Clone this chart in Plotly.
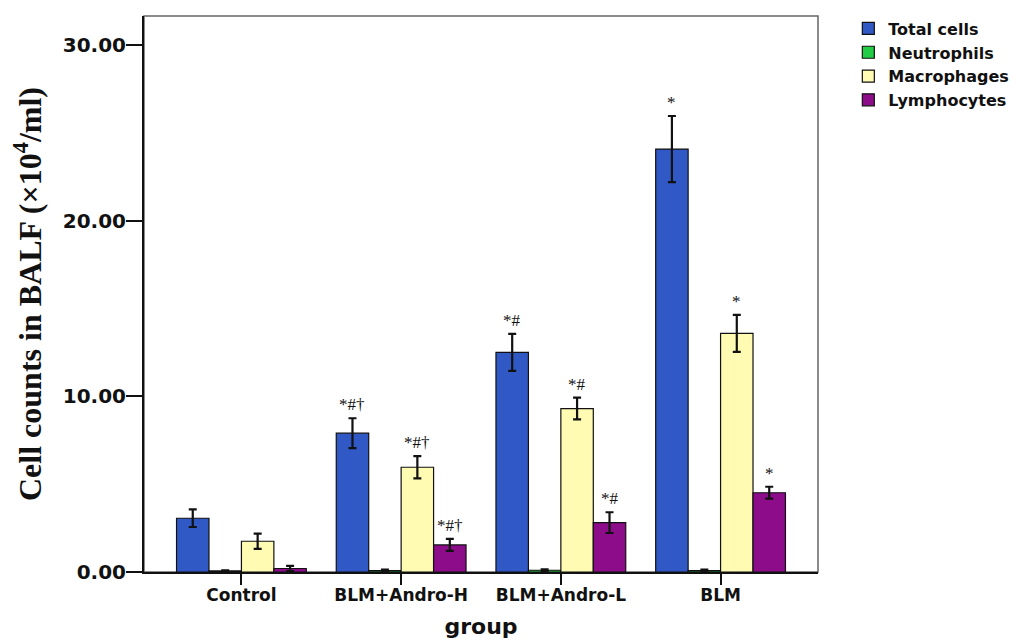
import plotly.graph_objects as go

groups = ["Control", "BLM+Andro-H", "BLM+Andro-L", "BLM"]
series = ["Total cells", "Neutrophils", "Macrophages", "Lymphocytes"]
total = [3.06, 7.9, 12.5, 24.07]
total_err = [0.5, 0.85, 1.05, 1.88]
neutro = [0.06, 0.08, 0.1, 0.08]
neutro_err = [0.04, 0.05, 0.05, 0.05]
macro = [1.75, 5.96, 9.3, 13.58]
macro_err = [0.43, 0.63, 0.62, 1.05]
lympho = [0.2, 1.54, 2.81, 4.51]
lympho_err = [0.15, 0.34, 0.59, 0.34]
total_sig = ["", "*#†", "*#", "*"]
macro_sig = ["", "*#†", "*#", "*"]
lympho_sig = ["", "*#†", "*#", "*"]
yticks = [0, 10, 20, 30]

colors = ["#3159C6", "#22CC44", "#FFFBB2", "#8C0C8A"]
values = [total, neutro, macro, lympho]
errs = [total_err, neutro_err, macro_err, lympho_err]

SANS = "DejaVu Sans, Verdana, Arial"
SERIF = "Liberation Serif, Times New Roman"

fig = go.Figure()
for name, v, e, c in zip(series, values, errs, colors):
    fig.add_trace(go.Bar(
        x=groups, y=v, name=name,
        marker=dict(color=c, line=dict(color="#111111", width=1.2)),
        error_y=dict(type="data", array=e, visible=True, color="#111111", thickness=2.2, width=4),
    ))

fig.update_layout(
    barmode="group", bargap=0.1875, bargroupgap=0,
    width=1022, height=632,
    margin=dict(l=136, r=212, t=8, b=68, autoexpand=False),
    plot_bgcolor="white", paper_bgcolor="white",
    showlegend=True,
    legend=dict(x=1.045, y=1.008, xanchor="left", yanchor="top",
                font=dict(family=SANS, size=16, color="#111111", weight="bold"),
                tracegroupgap=0, itemwidth=30, bgcolor="rgba(0,0,0,0)"),
    font=dict(family=SANS, color="#111111"),
)

fig.update_xaxes(
    range=[-0.61, 3.61], showline=True, linecolor="#111111", linewidth=2,
    ticks="outside", ticklen=11, tickwidth=2, tickcolor="#111111",
    ticklabelstandoff=-4,
    tickfont=dict(family=SANS, size=17, color="#111111", weight="bold"),
    title=dict(text="<b>group</b>", font=dict(family=SANS, size=22, color="#111111"), standoff=14),
    showgrid=False, zeroline=False,
)
fig.update_yaxes(
    range=[0, 31.64], tickvals=yticks, ticktext=[f"{t:.2f}" for t in yticks],
    showline=True, linecolor="#111111", linewidth=2,
    ticks="outside", ticklen=16, tickwidth=2, tickcolor="#111111",
    ticklabelstandoff=-4,
    tickfont=dict(family=SANS, size=20, color="#111111", weight="bold"),
    title=dict(text="<b>Cell counts in BALF (×10<sup>4</sup>/ml)</b>",
               font=dict(family=SERIF, size=32, color="#111111"), standoff=22),
    showgrid=False, zeroline=False,
)

# frame
fig.add_shape(type="rect", xref="paper", yref="paper", x0=0, y0=0, x1=1, y1=1,
              line=dict(color="#666666", width=1.5), layer="below")

offsets = [-0.375, -0.125, 0.125, 0.375]
for si, (v, e, sig) in enumerate([(total, total_err, total_sig), (macro, macro_err, macro_sig), (lympho, lympho_err, lympho_sig)]):
    off = offsets[[0, 2, 3][si]] * (1 - 0.1875)
    for gi, s in enumerate(sig):
        if not s:
            continue
        fig.add_annotation(x=gi + off, y=v[gi] + e[gi], xref="x", yref="y",
                           text=s, showarrow=False, yanchor="bottom", yshift=2,
                           font=dict(family=SERIF, size=17, color="#111111"))

fig.write_html("out.html")
